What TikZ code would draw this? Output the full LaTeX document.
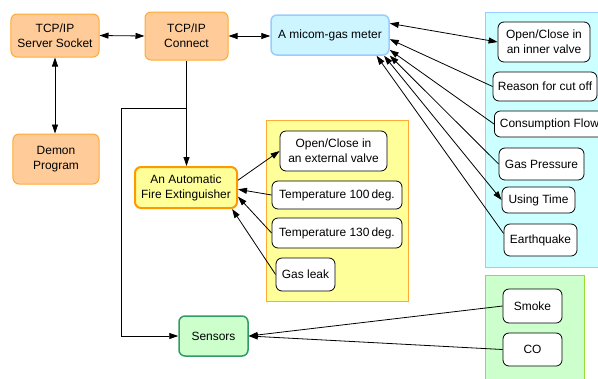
\documentclass[tikz,border=0pt]{standalone}
\usepackage{fontspec}
\setmainfont{Liberation Sans}
\usepackage{tikz}
\usepackage{xcolor}
\usetikzlibrary{arrows.meta}

\definecolor{orangefill}{HTML}{FFCC99}
\definecolor{orangeline}{HTML}{FFAA33}
\definecolor{bluefill}{HTML}{CCF5FF}
\definecolor{blueline}{HTML}{99CCFF}
\definecolor{panelblue}{HTML}{CCFFFF}
\definecolor{yellowfill}{HTML}{FFFF99}
\definecolor{fireline}{HTML}{FF9900}
\definecolor{greenfill}{HTML}{CCFFCC}
\definecolor{greenline}{HTML}{339966}
\definecolor{panelgreenline}{HTML}{99DD33}

\tikzset{
	mainbox/.style={draw, rounded corners=6bp, align=center, inner sep=1bp, line width=1bp},
	server/.style={mainbox, fill=orangefill, draw=orangeline},
	itembox/.style={draw, rounded corners=6bp, fill=white, align=center, inner sep=1bp, line width=0.8bp},
	link/.style={line width=0.8bp, -{Triangle[length=9bp,width=6bp]}},
	duplex/.style={line width=0.8bp, {Triangle[length=9bp,width=6bp]}-{Triangle[length=9bp,width=6bp]}}
}

\begin{document}
\begin{tikzpicture}[x=1bp, y=-1bp, font=\fontsize{12}{15}\selectfont]
	\useasboundingbox (0,0) rectangle (598,378);
	
	% panels
	\filldraw[fill=yellowfill, draw=orangeline, line width=1bp] (266,120) rectangle (408,301);
	\filldraw[fill=panelblue, draw=blueline, line width=1bp] (485,12) rectangle (600,267);
	\filldraw[fill=greenfill, draw=panelgreenline, line width=1bp] (485,275) rectangle (584,380);
	
	\node[server, minimum width=88bp, minimum height=43bp] (server_socket) at (55,35.5) {TCP/IP\\Server Socket};
	\node[server, minimum width=83bp, minimum height=48bp] (tcp_connect) at (186.5,36) {TCP/IP\\Connect};
	\node[server, minimum width=86bp, minimum height=50bp] (demon_program) at (56,159) {Demon\\Program};
	\node[mainbox, fill=bluefill, draw=blueline, line width=1.5bp, minimum width=118bp, minimum height=40bp] (gas_meter) at (330,35) {A micom-gas meter};
	\node[mainbox, fill=yellowfill, draw=fireline, line width=2bp, minimum width=102bp, minimum height=41bp] (fire_ext) at (186,187.5) {An Automatic\\Fire Extinguisher};
	\node[mainbox, fill=greenfill, draw=greenline, line width=1.5bp, minimum width=69bp, minimum height=40bp] (sensors) at (213.5,336) {Sensors};
	
	% fire extinguisher items
	\node[itembox, minimum width=107bp, minimum height=40bp] (ext_valve) at (333.5,151) {Open/Close in\\an external valve};
	\node[itembox, minimum width=130bp, minimum height=28bp] (temp_100) at (337,195) {Temperature 100\,deg.};
	\node[itembox, minimum width=130bp, minimum height=30bp] (temp_130) at (337,233) {Temperature 130\,deg.};
	\node[itembox, minimum width=59bp, minimum height=33bp] (gas_leak) at (305.5,274.5) {Gas leak};
	
	% gas meter items
	\node[itembox, minimum width=92bp, minimum height=40bp] (inner_valve) at (544,42) {Open/Close in\\an inner valve};
	\node[itembox, minimum width=104bp, minimum height=29bp] (cut_off) at (545,86.5) {Reason for cut off};
	\node[itembox, minimum width=110bp, minimum height=26bp, anchor=west] (consumption) at (494,124) {Consumption Flow};
	\node[itembox, minimum width=85bp, minimum height=32bp] (gas_pressure) at (541.5,164) {Gas Pressure};
	\node[itembox, minimum width=73bp, minimum height=26bp] (using_time) at (538.5,200) {Using Time};
	\node[itembox, minimum width=73bp, minimum height=32bp] (earthquake) at (540.5,240) {Earthquake};
	
	% sensor items
	\node[itembox, minimum width=59bp, minimum height=34bp] (smoke) at (532.5,306) {Smoke};
	\node[itembox, minimum width=59bp, minimum height=33bp] (co) at (532.5,349.5) {CO};
	
	\coordinate (branch) at (187,108);
	\coordinate (bend) at (121,108);
	
	\draw[duplex] (server_socket.east) -- (tcp_connect.west);
	\draw[duplex] (tcp_connect.east) -- (tcp_connect.east -| gas_meter.west);
	\draw[duplex] (server_socket.south) -- (server_socket.south |- demon_program.north);
	\draw[link] (tcp_connect.south) -- (tcp_connect.south |- fire_ext.north);
	\draw[link] (branch) -- (bend) |- (sensors.west);
	
	\draw[link] (fire_ext.8) -- (ext_valve.west);
	\draw[link] (temp_100.west) -- (fire_ext.-2);
	\draw[link] (temp_130.west) -- (fire_ext.-10);
	\draw[link] (gas_leak.west) -- (fire_ext.-25);
	
	\draw[duplex] (gas_meter.11) -- (inner_valve.west);
	\draw[link] (cut_off.west) -- (gas_meter.-4);
	\draw[link] (consumption.west) -- (gas_meter.-14);
	\draw[link] (gas_pressure.west) -- (gas_meter.-19);
	\draw[duplex] (gas_meter.-21.5) -- (using_time.west);
	\draw[link] (earthquake.170) -- (gas_meter.-24);
	
	\draw[link] (smoke.west) -- (sensors.east);
	\draw[link] (co.west) -- (sensors.east);
\end{tikzpicture}
\end{document}
